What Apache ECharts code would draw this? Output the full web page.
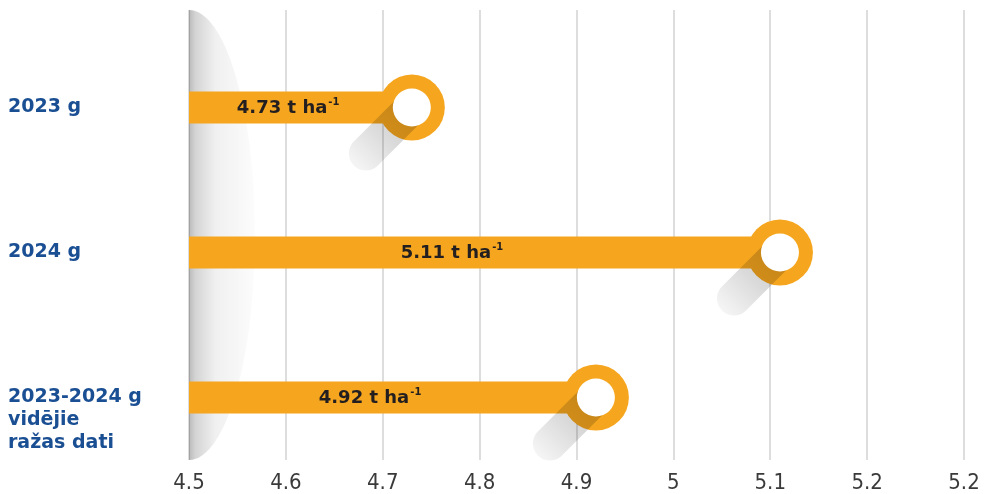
<!DOCTYPE html>
<html><head><meta charset="utf-8">
<script src="https://cdn.jsdelivr.net/npm/echarts@6/dist/echarts.min.js"></script>
<style>html,body{margin:0;padding:0;background:#fff}#c{width:984px;height:494px}</style>
</head><body><div id="c"></div>
<script>
// ---- data ----
const categories = ['2023 g', '2024 g', '2023-2024 g\nvidējie\nražas dati'];
const values = [4.73, 5.11, 4.92];
const valueLabels = ['4.73', '5.11', '4.92'];
const unitText = 't ha';
const unitSup = '-1';
const axisMin = 4.5, axisMax = 5.3, axisStep = 0.1;
const tickLabels = ['4.5', '4.6', '4.7', '4.8', '4.9', '5', '5.1', '5.2', '5.2'];

// ---- style ----
const ORANGE = '#F6A61E';
const BLUE = '#1B4F93';
const BAR_H = 32, RING_R = 33, HOLE_R = 19, SH_R = 17, SH_L = 65;

const chart = echarts.init(document.getElementById('c'), null, {renderer: 'canvas'});

function renderLolly(params, api) {
  const val = api.value(0), idx = api.value(1);
  const p0 = api.coord([axisMin, idx]);
  const p1 = api.coord([val, idx]);
  const cx = p1[0], cy = p1[1];
  const s = Math.SQRT1_2;
  const d = [-s, s], n = [s, s];
  const ex = cx + d[0] * SH_L, ey = cy + d[1] * SH_L;
  const pts = [[cx + n[0] * SH_R, cy + n[1] * SH_R]];
  for (let k = 0; k <= 24; k++) {
    const t = Math.PI * k / 24;
    pts.push([ex + n[0] * SH_R * Math.cos(t) + d[0] * SH_R * Math.sin(t),
              ey + n[1] * SH_R * Math.cos(t) + d[1] * SH_R * Math.sin(t)]);
  }
  pts.push([cx - n[0] * SH_R, cy - n[1] * SH_R]);
  const grad = new echarts.graphic.LinearGradient(cx, cy, ex + d[0] * SH_R, ey + d[1] * SH_R, [
    {offset: 0, color: 'rgba(0,0,0,0.2)'},
    {offset: 0.45, color: 'rgba(0,0,0,0.15)'},
    {offset: 1, color: 'rgba(0,0,0,0.04)'}
  ], true);
  const i = params.dataIndex;
  return {
    type: 'group',
    children: [
      {type: 'rect', shape: {x: p0[0], y: cy - BAR_H / 2, width: cx - p0[0], height: BAR_H}, style: {fill: ORANGE}},
      {type: 'circle', shape: {cx: cx, cy: cy, r: RING_R}, style: {fill: ORANGE}},
      {type: 'polygon', shape: {points: pts}, style: {fill: grad}},
      {type: 'circle', shape: {cx: cx, cy: cy, r: HOLE_R}, style: {fill: '#fff'}},
      {type: 'text', style: {
        x: p0[0] + 0.445 * (cx - p0[0]), y: cy + 1,
        text: '{v|' + valueLabels[i] + ' ' + unitText + '}{s|' + unitSup + '}',
        align: 'center', verticalAlign: 'middle',
        rich: {
          v: {fontFamily: 'DejaVu Sans', fontWeight: 'bold', fontSize: 18, fill: '#231f20', lineHeight: 22},
          s: {fontFamily: 'DejaVu Sans', fontWeight: 'bold', fontSize: 10, fill: '#231f20', lineHeight: 22, verticalAlign: 'top', padding: [0, 0, 10, 1]}
        }
      }}
    ]
  };
}

function renderShade(params, api) {
  const top = api.coord([axisMin, 1]);
  const bot = api.coord([axisMin, 0]);
  const x = top[0], cyy = (top[1] + bot[1]) / 2, ry = (bot[1] - top[1]) / 2, rx = 66;
  const pts = [];
  for (let k = 0; k <= 60; k++) {
    const t = -Math.PI / 2 + Math.PI * k / 60;
    pts.push([x + rx * Math.cos(t), cyy + ry * Math.sin(t)]);
  }
  return {
    type: 'polygon', shape: {points: pts},
    style: {fill: new echarts.graphic.LinearGradient(0, 0, 1, 0, [
      {offset: 0, color: 'rgba(0,0,0,0.27)'},
      {offset: 0.1, color: 'rgba(0,0,0,0.17)'},
      {offset: 0.4, color: 'rgba(0,0,0,0.06)'},
      {offset: 1, color: 'rgba(0,0,0,0.012)'}
    ])}
  };
}

const option = {
  animation: false,
  backgroundColor: '#fff',
  grid: [
    {left: 189, right: 20, top: 35, bottom: 24},
    {left: 189, right: 20, top: 10, bottom: 32}
  ],
  xAxis: [
    {gridIndex: 0, type: 'value', min: axisMin, max: axisMax, show: false},
    {gridIndex: 1, type: 'value', min: axisMin, max: axisMax, interval: axisStep,
     axisLine: {show: false}, axisTick: {show: false},
     splitLine: {show: true, lineStyle: {color: '#dddddd', width: 2}},
     axisLabel: {
       margin: 12, color: '#3a3a3a', fontSize: 22,
       fontFamily: "'Liberation Sans Narrow','DejaVu Sans Condensed',sans-serif",
       formatter: v => tickLabels[Math.round((v - axisMin) / axisStep)] || ''
     }}
  ],
  yAxis: [
    {gridIndex: 0, type: 'category', inverse: true, data: categories,
     axisLine: {show: false}, axisTick: {show: false}, splitLine: {show: false},
     axisLabel: {
       align: 'left', margin: 181, color: BLUE, fontSize: 19, fontWeight: 'bold',
       fontFamily: 'DejaVu Sans', lineHeight: 23, padding: [3, 0, 0, 0],
       formatter: v => { const n = v.split('\n').length; return '\n'.repeat(n - 1) + v; }
     }},
    {gridIndex: 1, type: 'value', min: 0, max: 1, show: false}
  ],
  series: [
    {type: 'custom', xAxisIndex: 1, yAxisIndex: 1, data: [[axisMin, 0]], renderItem: renderShade, clip: false, z: 1, silent: true},
    {type: 'custom', xAxisIndex: 0, yAxisIndex: 0, data: values.map((v, i) => [v, i]),
     encode: {x: 0, y: 1}, renderItem: renderLolly, clip: false, z: 3}
  ]
};
chart.setOption(option);
</script></body></html>
